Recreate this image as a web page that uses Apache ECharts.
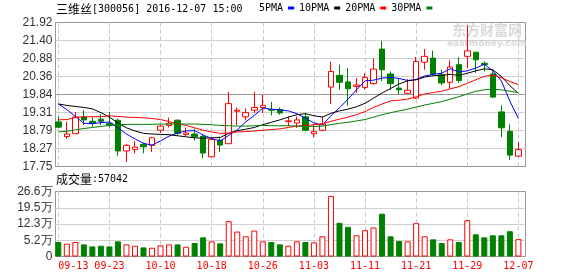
<!DOCTYPE html>
<html><head><meta charset="utf-8">
<script src="https://cdn.jsdelivr.net/npm/echarts@6.0.0/dist/echarts.min.js"></script>
<style>html,body{margin:0;padding:0;background:#fff}#c{width:578px;height:276px}</style>
</head><body><div id="c"></div>
<script>
const stockName = '三维丝';
const stockInfo = '[300056] 2016-12-07 15:00';
const volLabel = '成交量';
const volInfo = ':57042';
const maNames = ['5PMA', '10PMA', '20PMA', '30PMA'];

const dates = ['09-13','09-14','09-19','09-20','09-21','09-22','09-23','09-26','09-27','09-28','09-29','09-30',
  '10-10','10-11','10-12','10-13','10-14','10-17','10-18','10-19','10-20','10-21','10-24','10-25','10-26','10-27','10-28','10-31',
  '11-01','11-02','11-03','11-04','11-07','11-08','11-09','11-10','11-11','11-14','11-15','11-16','11-17','11-18','11-21','11-22','11-23','11-24','11-25','11-28','11-29','11-30',
  '12-01','12-02','12-05','12-06','12-07'];

const opens = [19.04,18.62,18.70,19.18,19.06,19.12,19.00,19.09,18.20,18.24,18.39,18.36,18.80,18.94,19.09,18.68,18.69,18.62,18.03,18.51,
  18.41,19.35,19.19,19.38,19.46,19.40,19.40,19.05,19.01,19.19,18.70,18.80,20.05,20.39,20.20,20.07,20.04,20.15,21.15,20.43,
  20.02,19.87,19.73,20.77,20.89,20.41,20.19,20.70,20.94,21.06,20.74,20.43,19.33,18.77,18.05];
const closes = [18.89,18.69,19.18,19.10,19.00,19.06,18.95,18.20,18.36,18.31,18.32,18.58,18.92,19.00,18.71,18.72,18.61,18.14,18.53,18.37,
  19.57,19.38,19.31,19.46,19.52,19.38,19.30,19.07,19.10,18.80,18.76,18.98,20.50,20.19,20.00,20.11,20.33,20.57,20.55,20.15,
  19.97,19.96,20.79,20.94,20.43,20.17,20.63,20.24,21.10,20.84,20.70,19.76,18.87,18.08,18.24];
const lows = [18.87,18.55,18.70,18.95,18.90,18.95,18.88,18.06,17.88,18.13,18.13,18.17,18.72,18.88,18.63,18.62,18.50,17.99,18.03,18.17,
  18.41,18.95,19.08,19.30,19.30,19.23,19.25,18.92,18.87,18.77,18.60,18.77,19.56,19.97,19.52,19.88,19.98,20.12,20.22,19.97,
  19.83,19.85,19.71,20.55,20.40,20.10,20.00,20.17,20.60,20.46,20.50,19.73,18.60,17.94,18.03];
const highs = [19.20,19.05,19.33,19.38,19.18,19.26,19.33,19.14,18.41,18.49,18.44,18.61,18.96,19.17,19.12,18.88,18.85,18.68,18.57,18.62,
  19.91,19.46,19.43,19.91,19.83,19.62,19.46,19.20,19.20,19.30,18.96,19.20,20.79,20.70,20.60,20.31,20.45,20.87,21.39,20.50,
  20.31,20.28,20.92,21.15,21.11,20.55,20.82,20.92,21.83,21.06,20.79,20.50,19.52,18.97,18.46];

const ma5 = [19.56,19.40,19.20,19.00,18.99,19.02,19.04,18.87,18.69,18.55,18.42,18.37,18.49,18.63,18.72,18.78,18.79,18.66,18.56,18.49,
  18.65,18.81,19.04,19.23,19.44,19.41,19.39,19.36,19.28,19.15,19.01,18.95,19.22,19.45,19.70,19.97,20.23,20.25,20.31,20.33,
  20.30,20.24,20.27,20.37,20.42,20.45,20.58,20.49,20.52,20.60,20.71,20.52,20.23,19.64,19.14];
const ma10 = [19.56,19.52,19.49,19.46,19.42,19.31,19.18,19.01,18.87,18.78,18.71,18.69,18.68,18.67,18.64,18.61,18.58,18.57,18.58,18.59,
  18.71,18.79,18.83,18.88,18.96,19.03,19.10,19.18,19.25,19.28,19.22,19.18,19.29,19.36,19.41,19.48,19.58,19.73,19.88,20.01,
  20.14,20.23,20.26,20.34,20.38,20.39,20.42,20.39,20.45,20.52,20.58,20.55,20.36,20.09,19.87];
const ma20 = [19.10,19.11,19.17,19.19,19.19,19.19,19.22,19.20,19.18,19.17,19.16,19.14,19.11,19.05,18.99,18.94,18.87,18.80,18.75,18.71,
  18.72,18.75,18.76,18.78,18.80,18.82,18.84,18.88,18.92,18.94,18.96,18.98,19.06,19.12,19.18,19.25,19.34,19.46,19.56,19.65,
  19.67,19.70,19.77,19.85,19.89,19.93,20.00,20.06,20.16,20.26,20.36,20.40,20.32,20.21,20.12];
const ma30 = [18.75,18.77,18.81,18.85,18.88,18.91,18.94,18.96,18.97,18.97,18.97,18.97,18.98,18.98,18.98,18.98,18.98,18.97,18.96,18.94,
  18.93,18.92,18.92,18.93,18.94,18.93,18.93,18.93,18.92,18.91,18.91,18.92,18.96,19.00,19.03,19.07,19.11,19.18,19.25,19.31,
  19.36,19.41,19.47,19.53,19.58,19.63,19.70,19.77,19.85,19.93,19.97,19.99,19.97,19.93,19.89];

// volume in 万手
const volumes = [4.43,3.69,4.43,3.39,2.50,2.80,2.50,4.72,3.39,2.80,2.06,1.91,2.95,3.39,3.39,2.36,3.98,6.49,4.72,3.83,
  13.59,9.01,6.94,9.45,4.72,4.43,3.39,2.80,4.72,4.43,4.28,6.94,24.67,12.85,11.08,7.38,9.60,10.78,16.84,6.94,
  4.87,4.72,12.70,6.94,5.61,3.98,5.61,4.43,14.03,7.82,6.49,7.38,7.38,9.16,5.70];

const priceTicks = ['17.75','18.27','18.79','19.31','19.84','20.36','20.88','21.40','21.92'];
const volTicks = ['0','5.2万','12.3万','19.5万','26.6万'];
const volBase = -1.93;   // value at the bottom of the volume panel
const volTop = 26.6;

const pMin = +priceTicks[0], pMax = +priceTicks[priceTicks.length - 1];
const pStep = (pMax - pMin) / (priceTicks.length - 1);
const vStep = (volTop - volBase) / (volTicks.length - 1);

const RED = '#ff0000', GREEN = '#008000';
const maColors = ['#0000ff', '#000000', '#ff0000', '#008000'];
const maData = [ma5, ma10, ma20, ma30];

const candleData = dates.map((d, i) => [opens[i], closes[i], lows[i], highs[i]]);
const volData = volumes.map((v, i) => {
  const up = closes[i] >= opens[i];
  return { value: v, itemStyle: { color: up ? '#ffffff' : GREEN, borderColor: up ? RED : GREEN, borderWidth: 1 } };
});

const monoFont = 'DejaVu Sans Mono';
const cjkFont = 'Noto Sans CJK SC';
const dataLeft = 58.3, dataWidth = 460.1;
const frameLeft = 55.5, frameWidth = 470;

const richTitle = {
  c: { fontFamily: cjkFont, fontSize: 12, fontWeight: 'normal', color: '#000', lineHeight: 14 },
  a: { fontFamily: monoFont, fontSize: 10, fontWeight: 'normal', color: '#000', lineHeight: 14 }
};

const chart = echarts.init(document.getElementById('c'), null, { renderer: 'canvas' });
chart.setOption({
  animation: false,
  backgroundColor: '#ffffff',
  title: [
    { text: '{c|' + stockName + '}{a|' + stockInfo + '}', left: 56, top: 2, padding: 0,
      textStyle: { fontWeight: 'normal', rich: richTitle } },
    { text: '{c|' + volLabel + '}{a|' + volInfo + '}', left: 56, top: 172, padding: 0,
      textStyle: { fontWeight: 'normal', rich: richTitle } }
  ],
  legend: {
    left: 259, top: 3, padding: 0, itemGap: 5, itemWidth: 6, itemHeight: 3, align: 'right',
    selectedMode: false, icon: 'rect',
    textStyle: { fontFamily: monoFont, fontSize: 10, color: '#000' },
    data: maNames
  },
  graphic: [
    { type: 'text', left: 452, top: 23, z: 0, silent: true,
      style: { text: '东方财富网', font: 'bold 14px "Noto Sans CJK SC"', fill: '#d9d9d9' } },
    { type: 'text', left: 447, top: 39, z: 0, silent: true,
      style: { text: 'eastmoney.com', font: 'bold 9px "DejaVu Sans"', fill: '#d9d9d9' } }
  ],
  grid: [
    { left: frameLeft, top: 22.5, width: frameWidth, height: 144, show: true, borderColor: '#999', borderWidth: 1, backgroundColor: 'transparent' },
    { left: dataLeft, top: 22.5, width: dataWidth, height: 144 },
    { left: frameLeft, top: 191.5, width: frameWidth, height: 65, show: true, borderColor: '#999', borderWidth: 1, backgroundColor: 'transparent' },
    { left: dataLeft, top: 191.5, width: dataWidth, height: 65 }
  ],
  xAxis: [
    { gridIndex: 0, type: 'value', min: 0, max: 1, show: false },
    { gridIndex: 1, type: 'category', data: dates, boundaryGap: false,
      axisLine: { show: false }, axisTick: { show: false }, axisLabel: { show: false },
      splitLine: { show: true, interval: 5, lineStyle: { color: '#c8c8c8', type: [4, 3], width: 1 } } },
    { gridIndex: 2, type: 'value', min: 0, max: 1, show: false },
    { gridIndex: 3, type: 'category', data: dates, boundaryGap: false,
      axisLine: { show: false }, axisTick: { show: false },
      axisLabel: { show: true, interval: 5, color: RED, fontFamily: monoFont, fontSize: 10, margin: 5, alignMinLabel: 'left' },
      splitLine: { show: true, interval: 5, lineStyle: { color: '#c8c8c8', type: [4, 3], width: 1 } } }
  ],
  yAxis: [
    { gridIndex: 0, type: 'value', min: pMin, max: pMax, interval: pStep,
      axisLine: { show: false }, axisTick: { show: false },
      axisLabel: { color: '#333', fontFamily: 'Liberation Sans', fontSize: 12, margin: 3,
        formatter: v => priceTicks[Math.round((v - pMin) / pStep)] || '' },
      splitLine: { show: true, lineStyle: { width: 1, color: ['#999','#d0d0d0','#d0d0d0','#d0d0d0','#999','#d0d0d0','#d0d0d0','#d0d0d0','#999'] } } },
    { gridIndex: 1, type: 'value', min: pMin, max: pMax, show: false, splitLine: { show: false } },
    { gridIndex: 2, type: 'value', min: volBase, max: volTop, interval: vStep,
      axisLine: { show: false }, axisTick: { show: false },
      axisLabel: { color: '#333', fontFamily: 'Liberation Sans', fontSize: 12, margin: 3,
        formatter: v => volTicks[Math.round((v - volBase) / vStep)] || '' },
      splitLine: { show: true, lineStyle: { width: 1, color: ['#999','#d0d0d0','#d0d0d0','#d0d0d0','#999'] } } },
    { gridIndex: 3, type: 'value', min: volBase, max: volTop, startValue: volBase, show: false, splitLine: { show: false } }
  ],
  series: [
    { type: 'candlestick', name: 'K', xAxisIndex: 1, yAxisIndex: 1, data: candleData, barWidth: 6, clip: false, z: 3,
      itemStyle: { color: '#ffffff', color0: GREEN, borderColor: RED, borderColor0: GREEN, borderWidth: 1 } },
  ].concat(maNames.map((n, k) => ({
    type: 'line', name: n, xAxisIndex: 1, yAxisIndex: 1, data: maData[k], showSymbol: false, symbol: 'none',
    z: 4, color: maColors[k], lineStyle: { width: 1, color: maColors[k] }, itemStyle: { color: maColors[k] }
  }))).concat([
    { type: 'bar', name: 'VOL', xAxisIndex: 3, yAxisIndex: 3, data: volData, barWidth: 6, startValue: volBase, z: 3 }
  ])
});
</script>
</body></html>
